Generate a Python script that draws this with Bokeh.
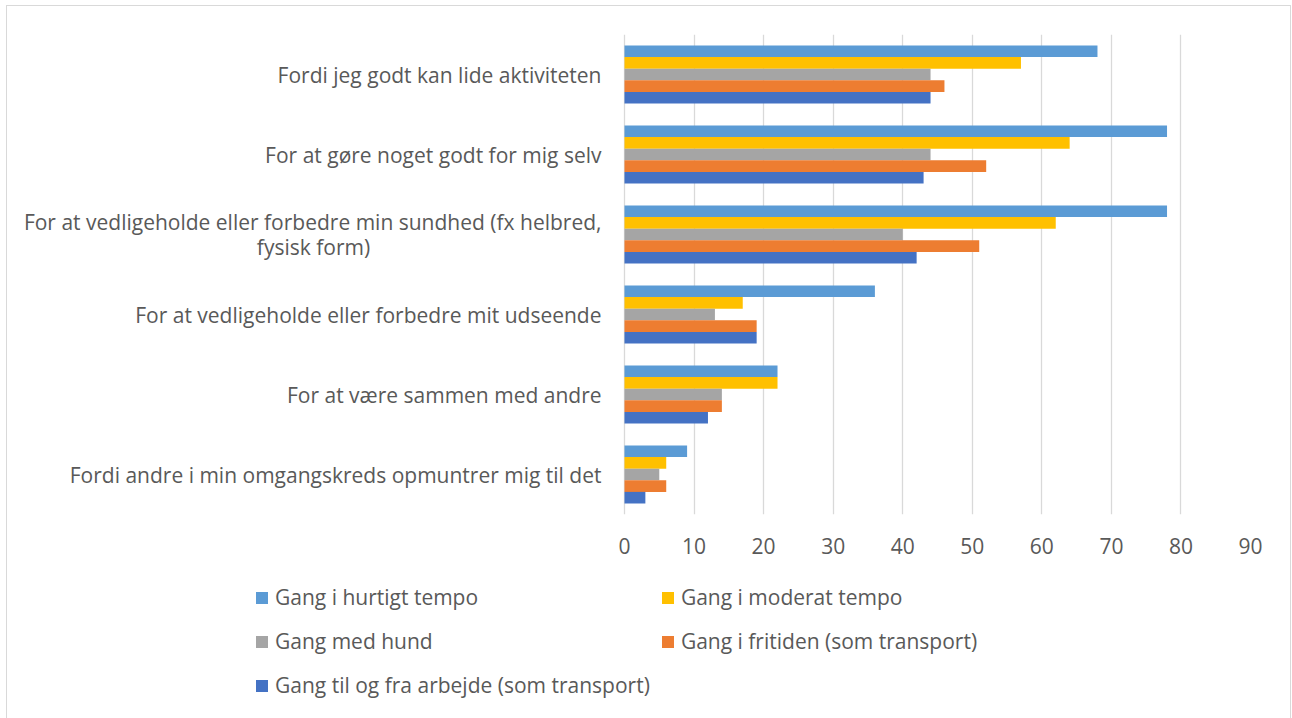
from bokeh.plotting import figure
from bokeh.layouts import column
from bokeh.models import Range1d, FixedTicker, Label, Legend, LegendItem
from bokeh.embed import file_html
from bokeh.resources import INLINE

categories = [
    "Fordi jeg godt kan lide aktiviteten",
    "For at gøre noget godt for mig selv",
    "For at vedligeholde eller forbedre min sundhed (fx helbred,\nfysisk form)",
    "For at vedligeholde eller forbedre mit udseende",
    "For at være sammen med andre",
    "Fordi andre i min omgangskreds opmuntrer mig til det",
]
series_names = [
    "Gang i hurtigt tempo",
    "Gang i moderat tempo",
    "Gang med hund",
    "Gang i fritiden (som transport)",
    "Gang til og fra arbejde (som transport)",
]
hurtigt = [68, 78, 78, 36, 22, 9]
moderat = [57, 64, 62, 17, 22, 6]
hund = [44, 44, 40, 13, 14, 5]
fritid = [46, 52, 51, 19, 14, 6]
arbejde = [44, 43, 42, 19, 12, 3]
x_ticks = [0, 10, 20, 30, 40, 50, 60, 70, 80, 90]

series_values = [hurtigt, moderat, hund, fritid, arbejde]
colors = ["#5B9BD5", "#FFC000", "#A5A5A5", "#ED7D31", "#4472C4"]

FONT = "Open Sans"
FSIZE = "21px"
TCOL = "#595959"

n = len(categories)
bar_h = 0.145
centers = [n - i - 0.5 for i in range(n)]

# layout (pixels): frame spans from the left edge (category labels live inside it)
W = 1283
FRAME_RIGHT_MARGIN = 40
ZERO_PX = 617            # distance from frame left to the value 0
VALUE_PX = 626           # pixels covered by 0..90
x_min = -x_ticks[-1] * ZERO_PX / VALUE_PX

p = figure(width=W, height=560, output_backend="svg", toolbar_location=None,
           x_range=Range1d(x_min, x_ticks[-1]), y_range=Range1d(0, n),
           y_axis_location=None,
           min_border_left=0, min_border_right=FRAME_RIGHT_MARGIN, min_border_top=28,
           min_border_bottom=52)
p.outline_line_color = None
p.ygrid.grid_line_color = None
p.xgrid.ticker = FixedTicker(ticks=x_ticks)
p.xgrid.grid_line_color = "#d9d9d9"
p.xgrid.grid_line_width = 1.3
p.xaxis.ticker = FixedTicker(ticks=x_ticks)
p.xaxis.axis_line_color = None
p.xaxis.major_tick_line_color = None
p.xaxis.minor_tick_line_color = None
p.xaxis.major_label_standoff = 17
p.xaxis.major_label_text_font = FONT
p.xaxis.major_label_text_font_size = FSIZE
p.xaxis.major_label_text_color = TCOL

for k, (vals, col) in enumerate(zip(series_values, colors)):
    ys = [c + (2 - k) * bar_h for c in centers]
    p.hbar(y=ys, left=0, right=vals, height=bar_h, fill_color=col, line_color=None)

for cat, yc in zip(categories, centers):
    lines = cat.split("\n")
    if len(lines) == 1:
        p.add_layout(Label(x=0, y=yc, x_offset=-23, text=cat, text_align="right",
                           text_baseline="middle", text_font=FONT, text_font_size=FSIZE,
                           text_color=TCOL))
    else:
        p.add_layout(Label(x=0, y=yc, x_offset=-23, y_offset=12.5, text=lines[0],
                           text_align="right", text_baseline="middle", text_font=FONT,
                           text_font_size=FSIZE, text_color=TCOL))
        p.add_layout(Label(x=0, y=yc, x_offset=-311, y_offset=-12.5, text=lines[1],
                           text_align="center", text_baseline="middle", text_font=FONT,
                           text_font_size=FSIZE, text_color=TCOL))

# legend figure (swatch renderers sit outside its visible range)
p2 = figure(width=W, height=152, output_backend="svg", toolbar_location=None,
            x_range=Range1d(0, 1), y_range=Range1d(0, 1),
            x_axis_location=None, y_axis_location=None, min_border=0)
p2.outline_line_color = None
p2.grid.visible = False
swatches = []
for col in colors:
    swatches.append(p2.hbar(y=[-5], left=[0], right=[1], height=0.1,
                            fill_color=col, line_color=None))

items = [LegendItem(label=name, renderers=[r]) for name, r in zip(series_names, swatches)]
legend = Legend(items=items, orientation="horizontal", ncols=2, location=(247, 16),
                glyph_width=15, glyph_height=15, label_standoff=6, label_width=355,
                label_height=34, spacing=10, padding=0, margin=0,
                border_line_color=None, background_fill_alpha=0,
                label_text_font=FONT, label_text_font_size=FSIZE, label_text_color=TCOL)
p2.add_layout(legend, "center")

layout = column(p, p2, spacing=0,
                styles={"border": "1px solid #d9d9d9", "margin-left": "6px", "margin-top": "5px"})

open("out.html", "w").write(file_html(layout, INLINE))
